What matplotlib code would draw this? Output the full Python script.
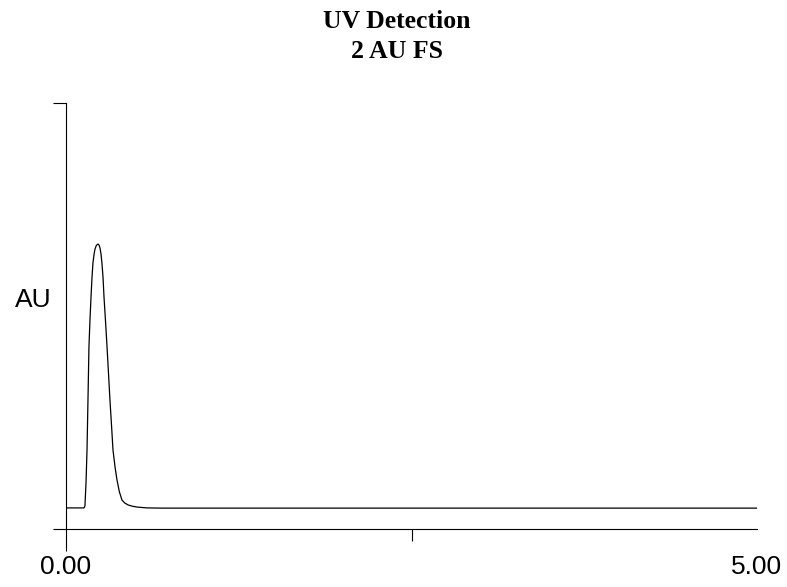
import matplotlib
matplotlib.use('Agg')
import matplotlib.pyplot as plt
from matplotlib.ticker import FixedLocator

# chromatogram trace (time in min, absorbance in AU)
time = [0.000, 0.130, 0.137, 0.145, 0.152, 0.160, 0.166, 0.174, 0.181, 0.188, 0.195,
        0.203, 0.210, 0.220, 0.232, 0.240, 0.246, 0.253, 0.260, 0.268, 0.275, 0.286,
        0.297, 0.308, 0.318, 0.330, 0.340, 0.355, 0.369, 0.386, 0.405, 0.425, 0.449,
        0.480, 0.514, 0.550, 0.586, 0.700, 5.000]
absorb = [0.099, 0.099, 0.108, 0.220, 0.371, 0.640, 0.854, 0.990, 1.089, 1.180, 1.249,
          1.290, 1.315, 1.332, 1.338, 1.332, 1.319, 1.292, 1.249, 1.180, 1.089, 0.975,
          0.854, 0.725, 0.606, 0.480, 0.371, 0.290, 0.230, 0.175, 0.136, 0.122, 0.113,
          0.107, 0.103, 0.101, 0.099, 0.098, 0.098]

xlim = (0, 5)
ylim = (0, 2)          # 2 AU full scale
xlabels = ['0.00', '5.00']
title1 = 'UV Detection'
title2 = '2 AU FS'

W, H = 787, 587
fig = plt.figure(figsize=(W / 100, H / 100), dpi=100)
ax = fig.add_axes([66 / W, (H - 529) / H, (757 - 66) / W, (529 - 103) / H])

ax.plot(time, absorb, color='black', lw=0.9)
ax.set_xlim(*xlim); ax.set_ylim(*ylim)

for s in ('top', 'right'):
    ax.spines[s].set_visible(False)
for s in ('left', 'bottom'):
    ax.spines[s].set_linewidth(0.8)

# x ticks: long tick at 0, short minor tick at midpoint, labels at ends
ax.set_xticks([xlim[0], xlim[1]])
ax.set_xticklabels(xlabels, family='Liberation Sans', fontsize=19)
ax.xaxis.set_minor_locator(FixedLocator([(xlim[0] + xlim[1]) / 2]))
ax.tick_params(axis='x', which='major', direction='out', length=15.8, width=0.8, pad=3)
ax.tick_params(axis='x', which='minor', direction='out', length=8.6, width=0.8)
ax.xaxis.get_major_ticks()[1].tick1line.set_visible(False)

# y ticks: unlabeled at bottom and top of scale
ax.set_yticks([ylim[0], ylim[1]])
ax.set_yticklabels([])
ax.tick_params(axis='y', direction='out', length=9.4, width=0.8)

ax.set_ylabel('AU', rotation=0, family='Liberation Sans', fontsize=19, ha='center', va='center')
ax.yaxis.set_label_coords((33 - 66) / (757 - 66), (529 - 300) / (529 - 103))

fig.text(397 / W, (H - 22) / H, title1, ha='center', va='center',
         family='Liberation Serif', weight='bold', fontsize=18.5)
fig.text(397 / W, (H - 52) / H, title2, ha='center', va='center',
         family='Liberation Serif', weight='bold', fontsize=18.5)

fig.savefig('out.png', dpi=100)
